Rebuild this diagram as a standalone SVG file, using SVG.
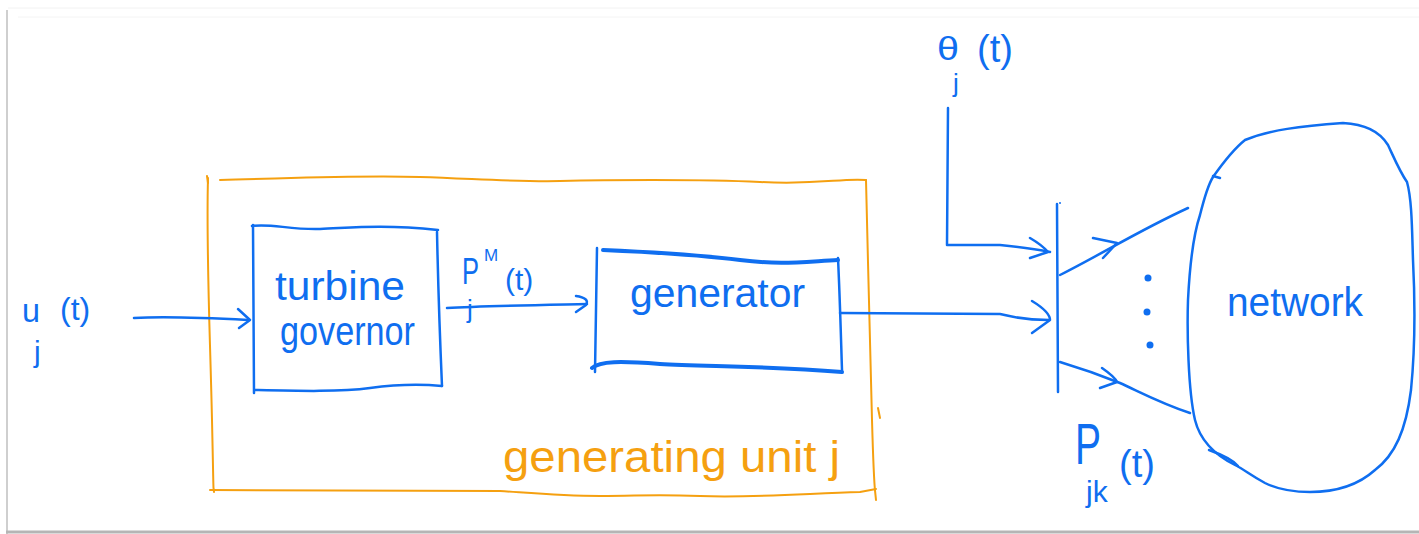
<svg xmlns="http://www.w3.org/2000/svg" width="1419" height="534" viewBox="0 0 1419 534">
  <defs>
    <style>
      .ink { fill: none; stroke: #0f6ef0; stroke-width: 2.5; stroke-linecap: round; stroke-linejoin: round; }
      .thick { stroke-width: 4; }
      .orange { fill: none; stroke: #f5a010; stroke-width: 2; stroke-linecap: round; stroke-linejoin: round; }
      .t { font-family: "Liberation Sans", Arial, sans-serif; fill: #0f6ef0; }
      .to { font-family: "Liberation Sans", Arial, sans-serif; fill: #f5a010; }
    </style>
  </defs>

  <!-- page -->
  <rect x="0" y="0" width="1419" height="534" fill="#ffffff"/>
  <g id="page-frame">
    <line x1="7" y1="10" x2="7" y2="534" stroke="#cfcfcf" stroke-width="2"/>
    <line x1="6" y1="532" x2="1419" y2="532" stroke="#b5b5b5" stroke-width="3"/>
    <line x1="8" y1="8" x2="1419" y2="8" stroke="#f2f2f2" stroke-width="1"/>
    <line x1="18" y1="17" x2="1419" y2="17" stroke="#f4f4f4" stroke-width="1"/>
  </g>

  <!-- generating unit frame -->
  <g id="generating-unit">
    <path class="orange" d="M220,180 C300,178 360,175 420,177 S520,182 560,181 S700,179 760,182 S840,178 866,180"/>
    <path class="orange" d="M207,176 L208,183"/>
    <path class="orange" d="M208,178 C206,250 210,330 212,420 S213,480 214,492"/>
    <path class="orange" stroke-width="3" d="M210,490 L500,491 C530,493 560,496 600,496 S650,494 700,496 S800,494 860,492 L876,489"/>
    <path class="orange" d="M866,180 C868,260 870,350 872,420 S874,480 876,500"/>
    <path class="orange" d="M878,408 L880,418"/>
    <text class="to" x="503" y="472" font-size="44" textLength="337" lengthAdjust="spacingAndGlyphs">generating unit j</text>
  </g>

  <!-- turbine governor -->
  <g id="turbine-governor">
    <path class="ink" stroke-width="3" d="M252,226 C270,223 290,230 320,229 S380,224 438,230"/>
    <path class="ink" d="M253,225 L254,393"/>
    <path class="ink" stroke-width="3" d="M255,390 C300,391 340,392 370,388 S420,384 442,386"/>
    <path class="ink" d="M437,232 C438,280 440,340 442,386"/>
    <text class="t" x="275" y="300" font-size="40" textLength="130" lengthAdjust="spacingAndGlyphs">turbine</text>
    <text class="t" x="280" y="345" font-size="40" textLength="135" lengthAdjust="spacingAndGlyphs">governor</text>
  </g>

  <!-- generator -->
  <g id="generator">
    <path class="ink thick" d="M603,250 C650,252 700,255 740,260 S800,262 838,260"/>
    <path class="ink" d="M597,248 L595,372"/>
    <path class="ink" d="M838,258 C840,300 841,340 842,370"/>
    <path class="ink thick" d="M592,368 C600,361 620,361 660,364 S760,365 842,372"/>
    <text class="t" x="630" y="307" font-size="40" textLength="175" lengthAdjust="spacingAndGlyphs">generator</text>
  </g>

  <!-- network -->
  <g id="network">
    <path class="ink" d="M1213,177 C1225,160 1235,148 1245,140 C1270,130 1300,126 1343,123 C1365,124 1380,132 1388,145 C1395,160 1400,172 1407,182 C1412,200 1412,230 1413,260 C1415,300 1415,350 1411,390 C1406,430 1395,455 1375,470 C1355,488 1330,492 1310,492 C1290,492 1275,488 1265,483 C1250,475 1245,470 1235,465 C1215,455 1200,440 1195,420 C1188,390 1187,330 1188,300 C1190,260 1195,230 1200,215 C1205,195 1208,185 1213,177 Z"/>
    <path class="ink" d="M1213,176 L1220,178"/>
    <path class="ink" d="M1209,450 C1220,454 1232,459 1238,466"/>
    <text class="t" x="1227" y="316" font-size="40" textLength="136" lengthAdjust="spacingAndGlyphs">network</text>
  </g>

  <!-- bus -->
  <g id="bus">
    <path class="ink" d="M1057,204 L1058,392"/>
    <circle cx="1060" cy="203" r="1" fill="#0f6ef0"/>
  </g>

  <!-- connectors -->
  <g id="connectors">
    <!-- u_j(t) into turbine governor -->
    <path class="ink" d="M134,318 C170,316 210,318 248,320"/>
    <path class="ink" d="M238,309 L250,320 L239,328"/>
    <!-- mechanical power into generator -->
    <path class="ink" d="M447,308 C480,306 540,305 587,304"/>
    <path class="ink" d="M576,296 Q590,298 586,305 L576,312"/>
    <!-- generator output to bus -->
    <path class="ink" d="M840,313 C880,313 960,314 1000,314 C1010,316 1020,320 1049,320"/>
    <path class="ink" d="M1032,301 Q1050,312 1050,320 L1032,333"/>
    <!-- theta_j(t) to bus -->
    <path class="ink" d="M948,108 L947,245 L1000,245 C1020,247 1040,250 1050,252"/>
    <path class="ink" d="M1030,238 Q1042,245 1048,252 L1030,258"/>
    <!-- bus to network -->
    <path class="ink" d="M1060,275 C1100,255 1140,230 1188,208"/>
    <path class="ink" d="M1093,238 L1117,243 L1103,258"/>
    <path class="ink" d="M1060,362 C1080,368 1100,375 1120,383 C1140,392 1160,403 1190,413"/>
    <path class="ink" d="M1102,368 Q1115,377 1117,382 L1100,388"/>
    <circle cx="1148" cy="278" r="3.5" fill="#0f6ef0"/>
    <circle cx="1147" cy="312" r="3.5" fill="#0f6ef0"/>
    <circle cx="1150" cy="345" r="3.5" fill="#0f6ef0"/>
  </g>

  <!-- signal labels -->
  <g id="labels">
    <text class="t" x="22" y="322" font-size="34" textLength="18" lengthAdjust="spacingAndGlyphs">u</text>
    <text class="t" x="34" y="362" font-size="30">j</text>
    <text class="t" x="60" y="320" font-size="32">(t)</text>

    <text class="t" x="462" y="284" font-size="36" textLength="17" lengthAdjust="spacingAndGlyphs">P</text>
    <text class="t" x="484" y="261" font-size="17">M</text>
    <text class="t" x="467" y="318" font-size="26">j</text>
    <text class="t" x="505" y="290" font-size="30">(t)</text>

    <text class="t" x="937" y="60" font-size="34" textLength="22" lengthAdjust="spacingAndGlyphs">θ</text>
    <text class="t" x="953" y="92" font-size="26">j</text>
    <text class="t" x="977" y="62" font-size="38">(t)</text>

    <text class="t" x="1075" y="464" font-size="58" textLength="26" lengthAdjust="spacingAndGlyphs">P</text>
    <text class="t" x="1086" y="502" font-size="30">jk</text>
    <text class="t" x="1119" y="477" font-size="38">(t)</text>
  </g>
</svg>
